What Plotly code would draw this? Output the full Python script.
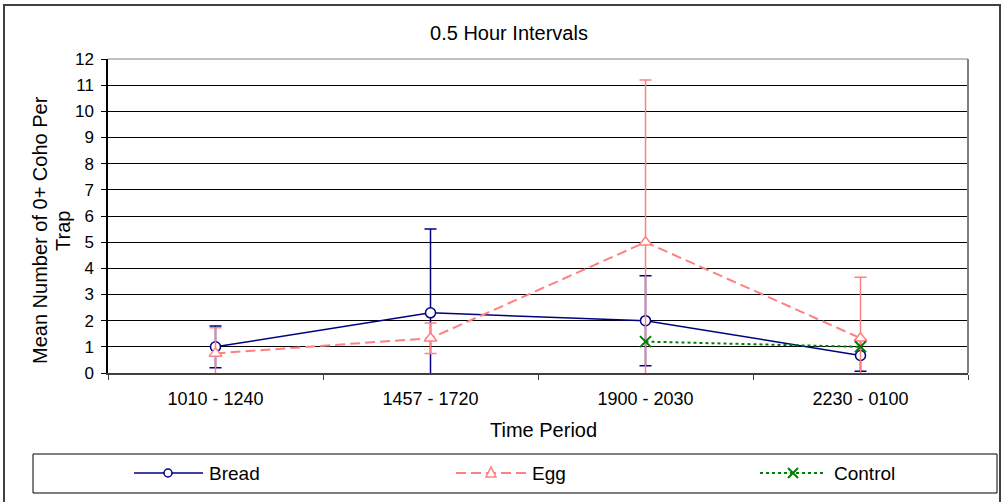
import plotly.graph_objects as go

# ---- data -------------------------------------------------------------
periods = ["1010 - 1240", "1457 - 1720", "1900 - 2030", "2230 - 0100"]

bread = [1.0, 2.3, 2.0, 0.67]
bread_err = [0.8, 3.2, 1.72, 0.6]

egg = [0.75, 1.33, 5.0, 1.33]
egg_err = [0.98, 0.58, 6.2, 2.33]

control = [None, None, 1.2, 1.0]

y_ticks = list(range(0, 13))

# ---- styling ----------------------------------------------------------
W, H = 1003, 502
L, R, T, B = 108, 968, 59, 373          # plot area edges in pixels
NAVY, PINK, GREEN = "#000080", "#FF8080", "#008000"
FONT = "Liberation Sans, Arial, sans-serif"


def px(x):
    """pixel x -> paper x"""
    return (x - L) / (R - L)


def py(y):
    """pixel y (from top) -> paper y"""
    return (B - y) / (B - T)


fig = go.Figure()

fig.add_trace(go.Scatter(
    x=periods, y=bread, name="Bread", mode="lines+markers",
    line=dict(color=NAVY, width=1.5),
    marker=dict(symbol="circle", size=10, color="white",
                line=dict(color=NAVY, width=1.5)),
    error_y=dict(type="data", array=bread_err, color=NAVY,
                 thickness=1.5, width=6),
    showlegend=False,
))

fig.add_trace(go.Scatter(
    x=periods, y=egg, name="Egg", mode="lines+markers",
    line=dict(color=PINK, width=2, dash="10px,5px"),
    marker=dict(symbol="triangle-up", size=11, color="white",
                line=dict(color=PINK, width=1.5)),
    error_y=dict(type="data", array=egg_err, color=PINK,
                 thickness=1.5, width=6),
    showlegend=False,
))

fig.add_trace(go.Scatter(
    x=periods, y=control, name="Control", mode="lines+markers",
    line=dict(color=GREEN, width=2, dash="3px,3px"),
    marker=dict(symbol="x-thin", size=11,
                line=dict(color=GREEN, width=2)),
    showlegend=False,
))

shapes = []
# outer chart frame
shapes.append(dict(type="rect", xref="paper", yref="paper",
                   x0=px(4), x1=px(1000), y0=py(504), y1=py(5),
                   line=dict(color="#404040", width=2)))
# plot-area top and right edges
shapes.append(dict(type="line", xref="paper", yref="paper",
                   x0=0, x1=1, y0=1, y1=1,
                   line=dict(color="#808080", width=1)))
shapes.append(dict(type="line", xref="paper", yref="paper",
                   x0=1, x1=1, y0=0, y1=1,
                   line=dict(color="#808080", width=2)))
# legend box
shapes.append(dict(type="rect", xref="paper", yref="paper",
                   x0=px(33), x1=px(997), y0=py(493), y1=py(454),
                   line=dict(color="#000000", width=1)))

ly = 473  # legend row centre (pixels)
# legend: Bread
shapes.append(dict(type="line", xref="paper", yref="paper",
                   x0=px(134), x1=px(203), y0=py(ly), y1=py(ly),
                   line=dict(color=NAVY, width=1.5)))
shapes.append(dict(type="circle", xref="paper", yref="paper",
                   x0=px(168 - 4), x1=px(168 + 4), y0=py(ly + 4), y1=py(ly - 4),
                   fillcolor="white", line=dict(color=NAVY, width=1.5)))
# legend: Egg
shapes.append(dict(type="line", xref="paper", yref="paper",
                   x0=px(456), x1=px(526), y0=py(ly), y1=py(ly),
                   line=dict(color=PINK, width=2, dash="10px,5px")))
ex = 491
shapes.append(dict(type="path", xref="paper", yref="paper",
                   path=(f"M {px(ex - 5)},{py(ly + 4)} L {px(ex + 5)},{py(ly + 4)} "
                         f"L {px(ex)},{py(ly - 6)} Z"),
                   fillcolor="white", line=dict(color=PINK, width=1.5)))
# legend: Control
shapes.append(dict(type="line", xref="paper", yref="paper",
                   x0=px(760), x1=px(826), y0=py(ly), y1=py(ly),
                   line=dict(color=GREEN, width=2, dash="3px,3px")))
cx = 793
shapes.append(dict(type="path", xref="paper", yref="paper",
                   path=(f"M {px(cx - 5)},{py(ly - 5)} L {px(cx + 5)},{py(ly + 5)} "
                         f"M {px(cx - 5)},{py(ly + 5)} L {px(cx + 5)},{py(ly - 5)}"),
                   line=dict(color=GREEN, width=2)))

annotations = [
    dict(text="Time Period", xref="paper", yref="paper",
         x=px(543), y=py(430), xanchor="center", yanchor="middle",
         showarrow=False, font=dict(size=20, color="black", family=FONT)),
    dict(text="Mean Number of 0+ Coho Per", xref="paper", yref="paper",
         x=px(40), y=py(230), xanchor="center", yanchor="middle",
         textangle=-90, showarrow=False,
         font=dict(size=20, color="black", family=FONT)),
    dict(text="Trap", xref="paper", yref="paper",
         x=px(63), y=py(231), xanchor="center", yanchor="middle",
         textangle=-90, showarrow=False,
         font=dict(size=20, color="black", family=FONT)),
]
for label, x0 in (("Bread", 207), ("Egg", 530), ("Control", 832)):
    annotations.append(dict(text=label, xref="paper", yref="paper",
                            x=px(x0), y=py(ly), xanchor="left", yanchor="middle",
                            showarrow=False,
                            font=dict(size=19, color="black", family=FONT)))

fig.update_layout(
    width=W, height=H,
    margin=dict(l=L, r=W - R, t=T, b=H - B, pad=0),
    paper_bgcolor="white", plot_bgcolor="white",
    font=dict(family=FONT, color="black"),
    title=dict(text="0.5 Hour Intervals", xref="container", yref="container",
               x=509 / W, y=1 - 33 / H, xanchor="center", yanchor="middle",
               font=dict(size=20, color="black", family=FONT)),
    xaxis=dict(type="category", range=[-0.5, 3.5], tickson="boundaries",
               ticks="outside", ticklen=5, tickcolor="#404040", tickwidth=1,
               showline=True, linecolor="#404040", linewidth=2,
               showgrid=False, zeroline=False, ticklabelstandoff=8,
               tickfont=dict(size=18, color="black")),
    yaxis=dict(range=[0, 12], tickvals=y_ticks, ticks="outside", ticklen=5,
               tickcolor="black", tickwidth=1,
               showline=True, linecolor="black", linewidth=1.5,
               showgrid=True, gridcolor="#000000", gridwidth=1,
               zeroline=False, ticklabelstandoff=4,
               tickfont=dict(size=17, color="black")),
    shapes=shapes,
    annotations=annotations,
    showlegend=False,
)

fig.write_html("out.html")
